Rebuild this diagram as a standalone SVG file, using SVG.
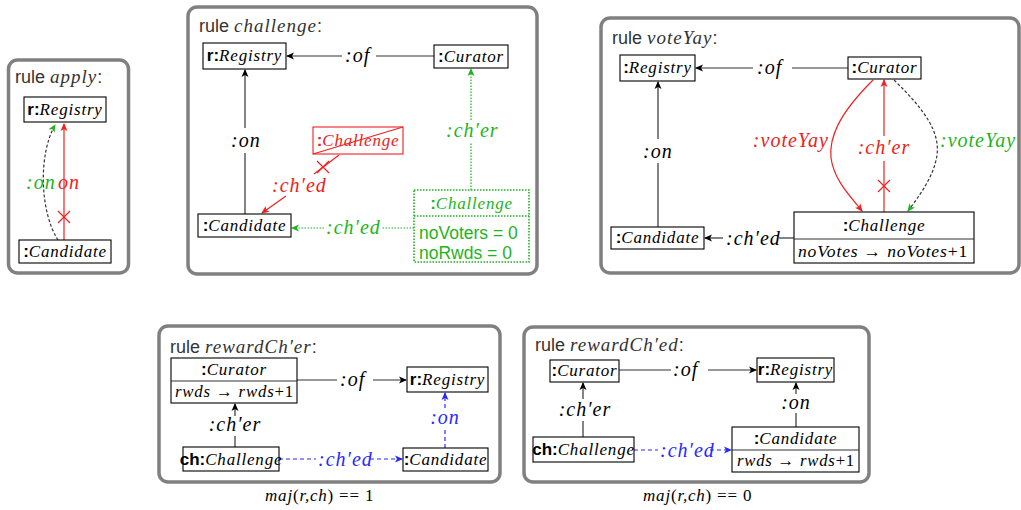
<svg xmlns="http://www.w3.org/2000/svg" width="1021" height="510" viewBox="0 0 1021 510">
<style>
.panel{fill:#fff;stroke:#808080;stroke-width:3.5}
.node{fill:#fff;stroke:#000;stroke-width:1.1}
.ln{fill:none;stroke:#333;stroke-width:1.2}
.title{font-family:"Liberation Sans",Arial,sans-serif;font-size:18px;fill:#333}
.ti{font-family:"Liberation Serif","DejaVu Serif",serif;font-style:italic;font-size:19px;letter-spacing:1px}
.nl{font-family:"Liberation Serif","DejaVu Serif",serif;font-style:italic;font-size:17px;letter-spacing:0.8px}
.b{font-family:"Liberation Sans",Arial,sans-serif;font-weight:bold;font-style:normal;letter-spacing:0}
.up{font-style:normal}
.el{font-family:"Liberation Serif","DejaVu Serif",serif;font-style:italic;font-size:20px;letter-spacing:1px}
.sans{font-family:"Liberation Sans",Arial,sans-serif;font-size:17.5px}
.red{fill:#f02020}.grn{fill:#1db41d}.blu{fill:#2828ff}
.rs{stroke:#f02020}.gs{stroke:#1db41d}.bs{stroke:#2828ff}
</style>
<defs>
<marker id="ak" viewBox="0 0 8 8" refX="7" refY="4" markerWidth="8" markerHeight="8" markerUnits="userSpaceOnUse" orient="auto"><path d="M0,0.5 L8,4 L0,7.5 L2,4 Z" fill="#000"/></marker>
<marker id="ar" viewBox="0 0 8 8" refX="7" refY="4" markerWidth="8" markerHeight="8" markerUnits="userSpaceOnUse" orient="auto"><path d="M0,0.5 L8,4 L0,7.5 L2,4 Z" fill="#f02020"/></marker>
<marker id="ag" viewBox="0 0 8 8" refX="7" refY="4" markerWidth="8" markerHeight="8" markerUnits="userSpaceOnUse" orient="auto"><path d="M0,0.5 L8,4 L0,7.5 L2,4 Z" fill="#1db41d"/></marker>
<marker id="ab" viewBox="0 0 8 8" refX="7" refY="4" markerWidth="8" markerHeight="8" markerUnits="userSpaceOnUse" orient="auto"><path d="M0,0.5 L8,4 L0,7.5 L2,4 Z" fill="#2828ff"/></marker>
</defs>

<g id="panels">
<rect class="panel" x="8.5" y="60" width="120" height="213" rx="9"/>
<rect class="panel" x="188" y="7" width="349" height="267" rx="9"/>
<rect class="panel" x="601" y="18" width="418" height="255" rx="9"/>
<rect class="panel" x="159" y="326" width="341" height="156" rx="9"/>
<rect class="panel" x="524" y="327" width="345" height="155" rx="9"/>
</g>

<g id="titles">
<text class="title" x="15" y="83">rule <tspan class="ti">apply</tspan>:</text>
<text class="title" x="199" y="32">rule <tspan class="ti">challenge</tspan>:</text>
<text class="title" x="612" y="44">rule <tspan class="ti">voteYay</tspan>:</text>
<text class="title" x="170" y="353">rule <tspan class="ti">rewardCh′er</tspan>:</text>
<text class="title" x="535" y="351">rule <tspan class="ti">rewardCh′ed</tspan>:</text>
</g>

<g id="connectors">
<line class="ln rs" x1="64" y1="240" x2="64" y2="124" marker-end="url(#ar)"/>
<path class="ln rs" d="M58,211 L70,223 M58,223 L70,211"/>
<path class="ln" stroke-dasharray="3,2" d="M58,240 C40,212 38,155 55,125" marker-end="url(#ag)"/>
<text class="el grn" x="26" y="189">:on</text>
<text class="el red" x="58" y="189">on</text>

<line class="ln" x1="434" y1="56" x2="376" y2="56"/>
<line class="ln" x1="342" y1="56" x2="287" y2="56" marker-end="url(#ak)"/>
<text class="el" x="345" y="62">:of</text>
<line class="ln" x1="245" y1="214" x2="245" y2="153"/>
<line class="ln" x1="245" y1="128" x2="245" y2="70" marker-end="url(#ak)"/>
<text class="el" x="231" y="147">:on</text>
<line class="ln rs" x1="339" y1="155" x2="314" y2="174"/>
<line class="ln rs" x1="286" y1="196" x2="262" y2="213" marker-end="url(#ar)"/>
<path class="ln rs" d="M317,161 L329,173 M317,173 L329,161"/>
<text class="el red" x="272" y="192">:ch′ed</text>
<line class="ln gs" stroke-dasharray="1.5,1.5" stroke-width="1.6" x1="471" y1="190" x2="471" y2="143"/>
<line class="ln gs" stroke-dasharray="1.5,1.5" stroke-width="1.6" x1="471" y1="120" x2="471" y2="69" marker-end="url(#ag)"/>
<text class="el grn" x="446" y="137">:ch′er</text>
<line class="ln gs" stroke-dasharray="1.5,1.5" stroke-width="1.6" x1="414" y1="228" x2="381" y2="228"/>
<line class="ln gs" stroke-dasharray="1.5,1.5" stroke-width="1.6" x1="324" y1="228" x2="292" y2="228" marker-end="url(#ag)"/>
<text class="el grn" x="326" y="234">:ch′ed</text>

<line class="ln" x1="848" y1="68" x2="792" y2="68"/>
<line class="ln" x1="753" y1="68" x2="696" y2="68" marker-end="url(#ak)"/>
<text class="el" x="757" y="74">:of</text>
<line class="ln" x1="658" y1="227" x2="658" y2="163"/>
<line class="ln" x1="658" y1="139" x2="658" y2="82" marker-end="url(#ak)"/>
<text class="el" x="643" y="158">:on</text>
<line class="ln" x1="794" y1="238" x2="779" y2="238"/>
<line class="ln" x1="723" y1="238" x2="705" y2="238" marker-end="url(#ak)"/>
<text class="el" x="726" y="245">:ch′ed</text>
<line class="ln rs" x1="884" y1="212" x2="884" y2="161"/>
<line class="ln rs" x1="884" y1="136" x2="884" y2="80" marker-end="url(#ar)"/>
<path class="ln rs" d="M878,180 L890,192 M878,192 L890,180"/>
<text class="el red" x="884" y="154" text-anchor="middle">:ch′er</text>
<path class="ln rs" d="M873,80 C838,115 829,138 831,158 C834,180 850,196 862,211" marker-end="url(#ar)"/>
<text class="el red" x="829" y="147" text-anchor="end">:voteYay</text>
<path class="ln" stroke-dasharray="3,2" d="M894,80 C925,110 940,132 937,155 C934,176 920,195 908,211" marker-end="url(#ag)"/>
<text class="el grn" x="940" y="147">:voteYay</text>

<line class="ln" x1="297" y1="380" x2="337" y2="380"/>
<line class="ln" x1="373" y1="380" x2="406" y2="380" marker-end="url(#ak)"/>
<text class="el" x="340" y="386">:of</text>
<line class="ln" x1="235" y1="447" x2="235" y2="436"/>
<line class="ln" x1="235" y1="416" x2="235" y2="404" marker-end="url(#ak)"/>
<text class="el" x="235" y="431" text-anchor="middle">:ch′er</text>
<line class="ln bs" stroke-dasharray="4,3" x1="279" y1="459" x2="316" y2="459"/>
<line class="ln bs" stroke-dasharray="4,3" x1="370" y1="459" x2="402" y2="459" marker-end="url(#ab)"/>
<text class="el blu" x="318" y="466">:ch′ed</text>
<line class="ln bs" stroke-dasharray="4,3" x1="445" y1="448" x2="445" y2="430"/>
<line class="ln bs" stroke-dasharray="4,3" x1="445" y1="408" x2="445" y2="393" marker-end="url(#ab)"/>
<text class="el blu" x="445" y="424" text-anchor="middle">:on</text>

<line class="ln" x1="619" y1="370" x2="671" y2="370"/>
<line class="ln" x1="708" y1="370" x2="756" y2="370" marker-end="url(#ak)"/>
<text class="el" x="673" y="376">:of</text>
<line class="ln" x1="583" y1="437" x2="583" y2="421"/>
<line class="ln" x1="583" y1="399" x2="583" y2="383" marker-end="url(#ak)"/>
<text class="el" x="585" y="416" text-anchor="middle">:ch′er</text>
<line class="ln bs" stroke-dasharray="4,3" x1="634" y1="450" x2="658" y2="450"/>
<line class="ln bs" stroke-dasharray="4,3" x1="710" y1="450" x2="731" y2="450" marker-end="url(#ab)"/>
<text class="el blu" x="660" y="457">:ch′ed</text>
<line class="ln" x1="796" y1="427" x2="796" y2="413"/>
<line class="ln" x1="796" y1="394" x2="796" y2="383" marker-end="url(#ak)"/>
<text class="el" x="796" y="409" text-anchor="middle">:on</text>
</g>

<g id="apply-registry"><rect class="node" x="24" y="97" width="82" height="25"/><text class="nl" x="65" y="115" text-anchor="middle"><tspan class="b">r:</tspan>Registry</text></g>
<g id="apply-candidate"><rect class="node" x="19" y="240" width="92" height="23"/><text class="nl" x="65" y="257" text-anchor="middle"><tspan class="b">:</tspan>Candidate</text></g>

<g id="ch-registry"><rect class="node" x="203" y="43" width="83" height="26"/><text class="nl" x="244.5" y="61" text-anchor="middle"><tspan class="b">r:</tspan>Registry</text></g>
<g id="ch-curator"><rect class="node" x="434" y="45" width="74" height="23"/><text class="nl" x="471" y="62" text-anchor="middle"><tspan class="b">:</tspan>Curator</text></g>
<g id="ch-candidate"><rect class="node" x="198" y="214" width="93" height="23"/><text class="nl" x="244.5" y="231" text-anchor="middle"><tspan class="b">:</tspan>Candidate</text></g>
<g id="ch-challenge-del"><rect x="313" y="127" width="90" height="27" fill="#fff" stroke="#f02020" stroke-width="1.1"/><text class="nl red" x="358" y="146" text-anchor="middle"><tspan class="b">:</tspan>Challenge</text><line x1="313" y1="154" x2="403" y2="127" stroke="#f02020" stroke-width="1.1"/></g>
<g id="ch-challenge-new"><rect x="414" y="190" width="115" height="72" fill="#fff" stroke="#1db41d" stroke-width="1.6" stroke-dasharray="1.5,1.5"/><line x1="414" y1="216" x2="529" y2="216" stroke="#1db41d" stroke-width="1.6" stroke-dasharray="1.5,1.5"/><text class="nl grn" x="471.5" y="209" text-anchor="middle"><tspan class="b">:</tspan>Challenge</text><text class="sans grn" x="419" y="239">noVoters = 0</text><text class="sans grn" x="419" y="259">noRwds = 0</text></g>

<g id="vy-registry"><rect class="node" x="620" y="55" width="75" height="26"/><text class="nl" x="657.5" y="73" text-anchor="middle"><tspan class="b">:</tspan>Registry</text></g>
<g id="vy-curator"><rect class="node" x="848" y="57" width="73" height="22"/><text class="nl" x="884.5" y="73" text-anchor="middle"><tspan class="b">:</tspan>Curator</text></g>
<g id="vy-candidate"><rect class="node" x="611" y="227" width="93" height="22"/><text class="nl" x="657.5" y="243" text-anchor="middle"><tspan class="b">:</tspan>Candidate</text></g>
<g id="vy-challenge"><rect class="node" x="794" y="212" width="180" height="51"/><line class="ln" x1="794" y1="239" x2="974" y2="239"/><text class="nl" x="884" y="231" text-anchor="middle"><tspan class="b">:</tspan>Challenge</text><text class="nl" x="798" y="257" textLength="170" lengthAdjust="spacingAndGlyphs">noVotes <tspan class="up">→</tspan> noVotes<tspan class="up">+1</tspan></text></g>

<g id="rer-curator"><rect class="node" x="171" y="358" width="126" height="45"/><line class="ln" x1="171" y1="381" x2="297" y2="381"/><text class="nl" x="234" y="375" text-anchor="middle"><tspan class="b">:</tspan>Curator</text><text class="nl" x="175" y="397" textLength="119" lengthAdjust="spacingAndGlyphs">rwds <tspan class="up">→</tspan> rwds<tspan class="up">+1</tspan></text></g>
<g id="rer-registry"><rect class="node" x="407" y="367" width="81" height="25"/><text class="nl" x="447.5" y="385" text-anchor="middle"><tspan class="b">r:</tspan>Registry</text></g>
<g id="rer-challenge"><rect class="node" x="183" y="447" width="96" height="24"/><text class="nl" x="231" y="465" text-anchor="middle"><tspan class="b">ch:</tspan>Challenge</text></g>
<g id="rer-candidate"><rect class="node" x="403" y="448" width="85" height="23"/><text class="nl" x="445.5" y="465" text-anchor="middle"><tspan class="b">:</tspan>Candidate</text></g>

<g id="red-curator"><rect class="node" x="550" y="360" width="69" height="22"/><text class="nl" x="584.5" y="376" text-anchor="middle"><tspan class="b">:</tspan>Curator</text></g>
<g id="red-registry"><rect class="node" x="757" y="358" width="77" height="24"/><text class="nl" x="795.5" y="375" text-anchor="middle"><tspan class="b">r:</tspan>Registry</text></g>
<g id="red-challenge"><rect class="node" x="533" y="437" width="101" height="25"/><text class="nl" x="583.5" y="455" text-anchor="middle"><tspan class="b">ch:</tspan>Challenge</text></g>
<g id="red-candidate"><rect class="node" x="732" y="427" width="127" height="45"/><line class="ln" x1="732" y1="450" x2="859" y2="450"/><text class="nl" x="795.5" y="444" text-anchor="middle"><tspan class="b">:</tspan>Candidate</text><text class="nl" x="737" y="466" textLength="118" lengthAdjust="spacingAndGlyphs">rwds <tspan class="up">→</tspan> rwds<tspan class="up">+1</tspan></text></g>

<g id="captions">
<text class="nl" x="265" y="501">maj<tspan class="up">(</tspan>r,ch<tspan class="up">) == 1</tspan></text>
<text class="nl" x="643" y="501">maj<tspan class="up">(</tspan>r,ch<tspan class="up">) == 0</tspan></text>
</g>
</svg>
